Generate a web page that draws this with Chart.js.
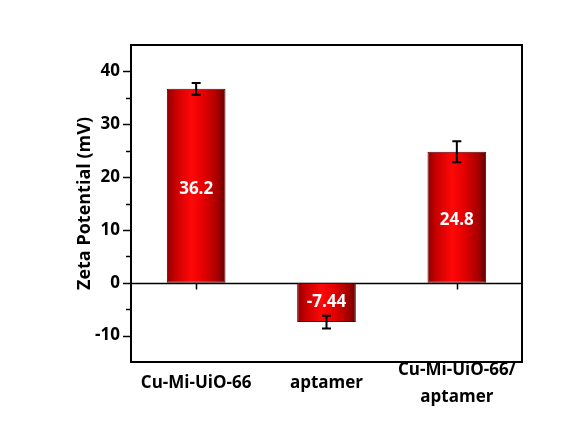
<!DOCTYPE html>
<html>
<head>
<meta charset="utf-8">
<script src="https://cdn.jsdelivr.net/npm/chart.js@4/dist/chart.umd.min.js"></script>
<style>
  html, body { margin: 0; padding: 0; background: #fff; }
  #wrap { width: 565px; height: 430px; }
</style>
</head>
<body>
<div id="wrap"><canvas id="zeta"></canvas></div>
<script>
/* ===================== DATA ===================== */
const categories = ["Cu-Mi-UiO-66", "aptamer", ["Cu-Mi-UiO-66/", "aptamer"]];
const values = [36.7, -7.44, 24.8];
const errors = [1.1, 1.2, 2.0];
const valueLabels = ["36.2", "-7.44", "24.8"];
const yTicks = [-10, 0, 10, 20, 30, 40];

const FONT = "'Open Sans', 'Noto Sans', sans-serif";
const BAR_PCT = 0.45;

/* ===================== BAR GRADIENT ===================== */
function barFill(c) {
  const chart = c.chart, x = chart.scales.x;
  if (!chart.chartArea || !x) return "#d00000";
  const cx = x.getPixelForValue(c.dataIndex);
  const w = x.width / categories.length * BAR_PCT;
  const g = chart.ctx.createLinearGradient(cx - w / 2, 0, cx + w / 2, 0);
  g.addColorStop(0, "#900000");
  g.addColorStop(0.15, "#c80000");
  g.addColorStop(0.42, "#ff0808");
  g.addColorStop(0.62, "#e60000");
  g.addColorStop(0.88, "#a20000");
  g.addColorStop(1, "#620000");
  return g;
}

/* ===================== FRAME / ZERO LINE / TICKS ===================== */
const framePlugin = {
  id: "frame",
  beforeDatasetsDraw(chart) {
    const { ctx, chartArea: a, scales: { x, y } } = chart;
    ctx.save();
    ctx.strokeStyle = "#000";
    // y ticks (major + minor), outside left
    for (let v = -10; v <= 40; v += 5) {
      const py = Math.round(y.getPixelForValue(v)) + 0.5;
      const len = v % 10 === 0 ? 8 : 5;
      ctx.lineWidth = 1.5;
      ctx.beginPath();
      ctx.moveTo(a.left - len, py);
      ctx.lineTo(a.left, py);
      ctx.stroke();
    }
    // zero line
    const zy = Math.round(y.getPixelForValue(0)) + 0.5;
    ctx.lineWidth = 1.5;
    ctx.beginPath();
    ctx.moveTo(a.left, zy);
    ctx.lineTo(a.right, zy);
    ctx.stroke();
    // category ticks below zero line
    categories.forEach((_, i) => {
      const px = Math.round(x.getPixelForValue(i)) + 0.5;
      ctx.beginPath();
      ctx.moveTo(px, zy);
      ctx.lineTo(px, zy + 6);
      ctx.stroke();
    });
    ctx.restore();
  },
  afterDraw(chart) {
    const { ctx, chartArea: a } = chart;
    ctx.save();
    ctx.strokeStyle = "#000";
    ctx.lineWidth = 2;
    ctx.strokeRect(a.left, a.top, a.right - a.left, a.bottom - a.top);
    ctx.restore();
  }
};

/* ===================== ERROR BARS + VALUE LABELS ===================== */
const barExtras = {
  id: "barExtras",
  afterDatasetsDraw(chart) {
    const { ctx, scales: { y } } = chart;
    const meta = chart.getDatasetMeta(0);
    ctx.save();
    meta.data.forEach((bar, i) => {
      const v = values[i], e = errors[i];
      const yHi = y.getPixelForValue(v + e), yLo = y.getPixelForValue(v - e);
      ctx.strokeStyle = "#000";
      ctx.lineWidth = 2;
      ctx.beginPath();
      ctx.moveTo(bar.x, yHi); ctx.lineTo(bar.x, yLo);
      ctx.moveTo(bar.x - 4.5, yHi); ctx.lineTo(bar.x + 4.5, yHi);
      ctx.moveTo(bar.x - 4.5, yLo); ctx.lineTo(bar.x + 4.5, yLo);
      ctx.stroke();

      ctx.fillStyle = "#fff";
      ctx.font = "bold 17px " + FONT;
      ctx.textAlign = "center";
      ctx.textBaseline = "middle";
      const my = (bar.y + bar.base) / 2 + (v > 0 ? 3 : 0);
      ctx.fillText(valueLabels[i], bar.x, my);
    });
    ctx.restore();
  }
};

/* ===================== CHART ===================== */
new Chart(document.getElementById("zeta"), {
  type: "bar",
  data: {
    labels: categories,
    datasets: [{
      data: values,
      backgroundColor: barFill,
      borderColor: "#5a0000",
      borderWidth: 1,
      borderSkipped: false,
      categoryPercentage: 1,
      barPercentage: BAR_PCT
    }]
  },
  options: {
    responsive: true,
    maintainAspectRatio: false,
    animation: false,
    layout: { padding: { left: 74, top: 45, right: 43, bottom: 8 } },
    plugins: { legend: { display: false }, tooltip: { enabled: false } },
    scales: {
      x: {
        grid: { display: false, drawTicks: false },
        border: { display: false },
        afterFit: s => { s.height = 60; },
        ticks: {
          color: "#000",
          font: { family: FONT, size: 17, weight: "bold", lineHeight: 1.6 },
          padding: 8,
          maxRotation: 0,
          autoSkip: false,
          crossAlign: "center"
        }
      },
      y: {
        min: -15,
        max: 45,
        afterFit: s => { s.width = 57; },
        afterBuildTicks: s => { s.ticks = yTicks.map(v => ({ value: v })); },
        grid: { display: false, drawTicks: false },
        border: { display: false },
        ticks: {
          color: "#000",
          font: { family: FONT, size: 17, weight: "bold" },
          padding: 11
        },
        title: {
          display: true,
          text: "Zeta Potential (mV)",
          color: "#000",
          font: { family: FONT, size: 18, weight: "bold" },
          padding: 0
        }
      }
    }
  },
  plugins: [framePlugin, barExtras]
});
</script>
</body>
</html>
